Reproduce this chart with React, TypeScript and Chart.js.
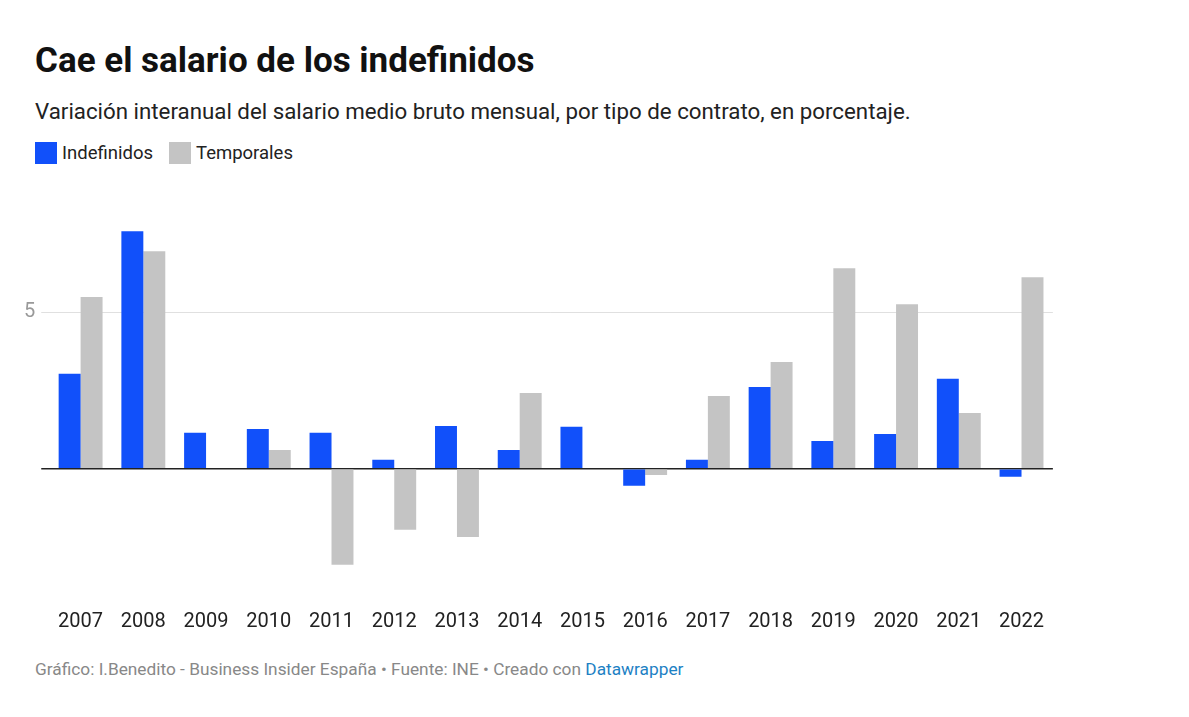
import React, { useEffect, useRef } from "react";
import { Chart, registerables } from "chart.js";
Chart.register(...registerables);

const years = ["2007","2008","2009","2010","2011","2012","2013","2014","2015","2016","2017","2018","2019","2020","2021","2022"];
const indefinidos = [3.03,7.58,1.15,1.27,1.15,0.29,1.37,0.6,1.34,-0.54,0.29,2.61,0.89,1.11,2.87,-0.25];
const temporales = [5.48,6.94,0,0.6,-3.06,-1.94,-2.17,2.42,0.03,-0.2,2.32,3.41,6.4,5.25,1.78,6.11];

const F = "Roboto, 'Noto Sans', sans-serif";

export default function App() {
  const ref = useRef<HTMLCanvasElement>(null);
  useEffect(() => {
    const c = new Chart(ref.current!, {
      type: "bar",
      data: {
        labels: years,
        datasets: [
          { label: "Indefinidos", data: indefinidos, backgroundColor: "#1150fa", categoryPercentage: 0.7, barPercentage: 1 },
          { label: "Temporales", data: temporales, backgroundColor: "#c4c4c4", categoryPercentage: 0.7, barPercentage: 1 },
        ],
      },
      options: {
        animation: false,
        responsive: false,
        plugins: { legend: { display: false }, tooltip: { enabled: false } },
        layout: { padding: 0 },
        scales: {
          x: {
            grid: { display: false },
            border: { display: false },
            ticks: { color: "#222", font: { family: F, size: 20 }, padding: 14 },
          },
          y: {
            min: -3.8, max: 8,
            afterBuildTicks: (s: any) => { s.ticks = [{ value: 0 }, { value: 5 }]; },
            border: { display: false },
            grid: { color: (ctx: any) => (ctx.tick && ctx.tick.value === 0 ? "#222" : "#e0e0e0"), lineWidth: (ctx: any) => (ctx.tick && ctx.tick.value === 0 ? 1.5 : 1) },
            ticks: { color: "#999", font: { family: F, size: 20 }, padding: 6, callback: (v: any) => (v === 5 ? "5" : "") },
          },
        },
      },
    });
    return () => c.destroy();
  }, []);
  const abs = (x: number, y: number): React.CSSProperties => ({ position: "absolute", left: x - 8, top: y - 8 });
  return (
    <div style={{ position: "relative", width: 1173, height: 700, fontFamily: F }}>
      <div style={{ ...abs(35, 40), fontSize: 35, fontWeight: 700, color: "#111" }}>Cae el salario de los indefinidos</div>
      <div style={{ ...abs(35, 98), fontSize: 22.3, color: "#222" }}>Variación interanual del salario medio bruto mensual, por tipo de contrato, en porcentaje.</div>
      <div style={{ ...abs(35, 142), fontSize: 18.5, color: "#222", display: "flex", alignItems: "center" }}>
        <span style={{ width: 22, height: 22, background: "#1150fa", marginRight: 5 }} />Indefinidos
        <span style={{ width: 22, height: 22, background: "#c4c4c4", marginLeft: 16, marginRight: 5 }} />Temporales
      </div>
      <canvas ref={ref} width={1040} height={448} style={{ ...abs(18, 200), width: 1040, height: 448 }} />
      <div style={{ ...abs(35, 659), fontSize: 17.3, color: "#888" }}>
        Gráfico: I.Benedito - Business Insider España • Fuente: INE • Creado con <span style={{ color: "#1d81c4" }}>Datawrapper</span>
      </div>
    </div>
  );
}
